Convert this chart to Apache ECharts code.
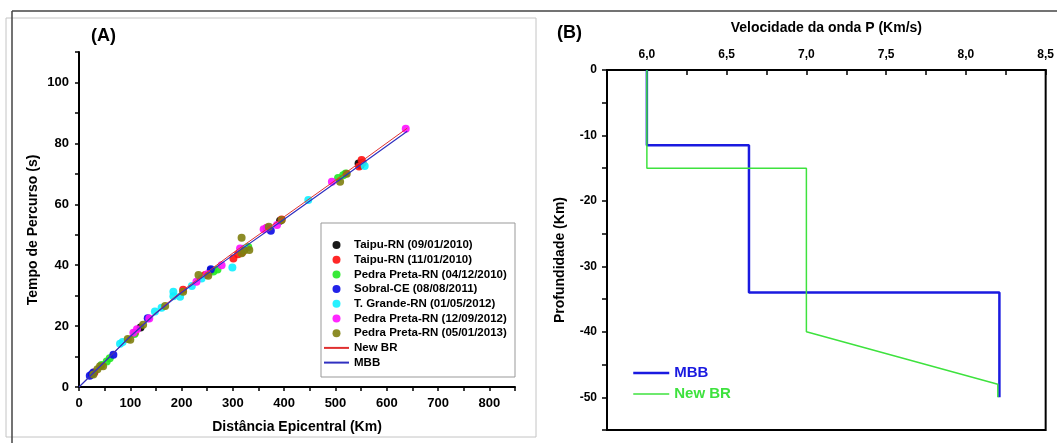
<!DOCTYPE html>
<html>
<head>
<meta charset="utf-8">
<script src="https://cdn.jsdelivr.net/npm/echarts@6/dist/echarts.min.js"></script>
<style>
html,body{margin:0;padding:0;background:#fff;}
#chart{width:1057px;height:443px;}
</style>
</head>
<body>
<div id="chart"></div>
<script>
// ---------- Panel A data: travel time (s) vs epicentral distance (km) ----------
const taipu0901 = [[545,73.4],[549,72.8],[257,38.3],[392,54.6],[120,19.5]];
const taipu1101 = [[551,74.5],[553,73.6],[546,72.4],[301,42.2],[310,43.6],[318,44.2],[203,31.9],[246,36.8],[109,17.7],[366,52.2],[395,55.0],[30,4.8]];
const pedraPreta2010 = [[54,8.4],[44,7.2],[60,9.4],[515,69.5],[520,70.1],[505,68.6],[262,37.9],[270,38.6],[330,46.0],[108,17.4]];
const sobral2011 = [[21,3.7],[28,4.8],[25,4.2],[67,10.6],[134,22.6],[257,38.7],[374,51.3]];
const tGrande2012 = [[80,14.2],[85,14.8],[148,24.8],[161,26.0],[184,31.3],[184,29.8],[197,29.6],[220,33.2],[239,35.6],[299,39.2],[447,61.4],[557,72.6],[322,45.5]];
const pedraPreta2012 = [[637,84.8],[493,67.4],[360,51.8],[366,52.3],[386,53.2],[278,40.0],[229,34.6],[137,22.5],[106,17.8],[113,19.0],[314,45.5],[250,37.0]];
const pedraPreta2013 = [[41,6.8],[47,6.8],[36,5.8],[100,15.5],[95,15.8],[125,20.4],[168,26.6],[203,31.3],[233,36.8],[317,49.0],[332,45.0],[317,43.9],[322,44.8],[395,54.8],[370,52.6],[509,67.4],[522,70.0],[252,36.5],[28,4.1]];

const curveDist = [0,50,100,150,200,300,400,500,640];
const newBrTime = [0,8.3,16.6,24.4,31.4,44.0,55.9,67.9,85.0];
const mbbTime   = [0,8.3,16.6,24.2,31.0,43.3,55.1,67.1,84.0];

const scatterNames = ['Taipu-RN (09/01/2010)','Taipu-RN (11/01/2010)','Pedra Preta-RN (04/12/2010)','Sobral-CE (08/08/2011)','T. Grande-RN (01/05/2012)','Pedra Preta-RN (12/09/2012)','Pedra Preta-RN (05/01/2013)'];
const scatterData = [taipu0901,taipu1101,pedraPreta2010,sobral2011,tGrande2012,pedraPreta2012,pedraPreta2013];
const scatterColors = ['#000000','#ff1010','#22e822','#0a0ae6','#10f0ff','#ff10ff','#7f7f10'];

// ---------- Panel B data: P-wave velocity (km/s) vs depth (km) ----------
const mbbVel = [6.0,6.0,6.64,6.64,8.21,8.21];
const mbbDepth = [0,-11.5,-11.5,-34,-34,-50];
const newBrVel = [6.0,6.0,7.0,7.0,8.2,8.2];
const newBrDepth = [0,-15,-15,-40,-48,-50];

const FONT = 'Liberation Sans, Arial, sans-serif';
const zip = (a,b) => a.map((v,i)=>[v,b[i]]);
const blueB = '#1a1ae0', greenB = '#3ee23e';

const tick = {show:true, length:4, lineStyle:{color:'#000', width:1.5}};
const lbl = (extra) => Object.assign({color:'#000', fontWeight:'bold', fontFamily:FONT}, extra);
const noSym = {opacity:0, color:'transparent', borderWidth:0};

const series = [];
scatterNames.forEach((n,i)=>{
  series.push({name:n, type:'scatter', xAxisIndex:0, yAxisIndex:0, data:scatterData[i],
    symbol:'circle', symbolSize:8, itemStyle:{color:scatterColors[i], opacity:0.9}, z:2});
});
series.push({name:'New BR', type:'line', xAxisIndex:0, yAxisIndex:0, data:zip(curveDist,newBrTime),
  symbol:'none', lineStyle:{color:'#e03030', width:1}, itemStyle:{color:'#e03030'}, z:3});
series.push({name:'MBB', type:'line', xAxisIndex:0, yAxisIndex:0, data:zip(curveDist,mbbTime),
  symbol:'none', lineStyle:{color:'#3030c0', width:1.2}, itemStyle:{color:'#3030c0'}, z:3});
series.push({name:'MBB (B)', type:'line', xAxisIndex:1, yAxisIndex:1, data:zip(mbbVel,mbbDepth),
  symbol:'none', lineStyle:{color:blueB, width:2.5}, itemStyle:{color:blueB}, z:3});
series.push({name:'New BR (B)', type:'line', xAxisIndex:1, yAxisIndex:1, data:zip(newBrVel,newBrDepth),
  symbol:'none', lineStyle:{color:greenB, width:1.5}, itemStyle:{color:greenB}, z:4});

const option = {
  animation:false,
  backgroundColor:'#fff',
  grid:[
    {left:79, top:52, width:436, height:335},
    {left:607, top:70, width:439, height:360, show:true, borderColor:'#000', borderWidth:2, backgroundColor:'transparent'}
  ],
  xAxis:[
    {gridIndex:0, type:'value', min:0, max:850, interval:50,
      axisLine:{show:true, onZero:false, lineStyle:{color:'#000', width:2}},
      axisTick:tick, splitLine:{show:false},
      axisLabel:lbl({fontSize:13, margin:10, formatter:v=> v%100===0 ? String(v) : ''}),
      name:'Distância Epicentral (Km)', nameLocation:'middle', nameGap:33,
      nameTextStyle:lbl({fontSize:14})},
    {gridIndex:1, type:'value', position:'top', min:5.75, max:8.5, interval:0.25,
      axisLine:{show:true, onZero:false, lineStyle:{color:'#000', width:2}},
      axisTick:Object.assign({}, tick, {inside:true, length:5}), splitLine:{show:false},
      axisLabel:lbl({fontSize:12, margin:9, formatter:v=> (Math.abs(v*2-Math.round(v*2))<1e-6 && v>5.9) ? v.toFixed(1).replace('.',',') : ''}),
      name:'Velocidade da onda P (Km/s)', nameLocation:'middle', nameGap:35,
      nameTextStyle:lbl({fontSize:14})}
  ],
  yAxis:[
    {gridIndex:0, type:'value', min:0, max:110, interval:10,
      axisLine:{show:true, onZero:false, lineStyle:{color:'#000', width:2}},
      axisTick:tick, splitLine:{show:false},
      axisLabel:lbl({fontSize:13, margin:10, formatter:v=> (v%20===0 && v<=100) ? String(v) : ''}),
      name:'Tempo de Percurso (s)', nameLocation:'middle', nameGap:39,
      nameTextStyle:lbl({fontSize:14, padding:[0,21,0,0]})},
    {gridIndex:1, type:'value', min:-55, max:0, interval:5,
      axisLine:{show:true, onZero:false, lineStyle:{color:'#000', width:2}},
      axisTick:Object.assign({}, tick, {length:5}), splitLine:{show:false},
      axisLabel:lbl({fontSize:12, margin:10, formatter:v=> (v%10===0 && v>-55) ? String(v) : ''}),
      name:'Profundidade (Km)', nameLocation:'middle', nameGap:40,
      nameTextStyle:lbl({fontSize:14, padding:[0,20,0,0]})}
  ],
  legend:[
    {left:323, top:239, orient:'vertical', padding:0,
      itemWidth:25, itemHeight:8, itemGap:2.7,
      textStyle:lbl({fontSize:11.5, lineHeight:12}),
      data: scatterNames.map(n=>({name:n, icon:'circle'})).concat([
        {name:'New BR', itemStyle:noSym},
        {name:'MBB', itemStyle:noSym}])},
    {left:632, top:365, orient:'vertical', padding:0,
      itemWidth:36, itemHeight:14, itemGap:5,
      textStyle:lbl({fontSize:15, lineHeight:16}),
      formatter:n=>n.replace(' (B)',''),
      data:[{name:'MBB (B)', textStyle:{color:blueB}, itemStyle:noSym, lineStyle:{width:2.5, color:blueB}},
            {name:'New BR (B)', textStyle:{color:greenB}, itemStyle:noSym, lineStyle:{width:1.5, color:greenB}}]}
  ],
  graphic:[
    {type:'rect', shape:{x:6, y:18, width:530, height:419}, style:{fill:'none', stroke:'#c4c4c4', lineWidth:1}, silent:true, z:-1},
    {type:'line', shape:{x1:12, y1:11, x2:1057, y2:11}, style:{stroke:'#444', lineWidth:1.5}, silent:true},
    {type:'line', shape:{x1:12, y1:11, x2:12, y2:443}, style:{stroke:'#444', lineWidth:1.5}, silent:true},
    {type:'rect', shape:{x:321, y:223, width:194, height:154}, style:{fill:'#fff', stroke:'#999', lineWidth:1}, silent:true, z:-1},
    {type:'text', left:91, top:27, style:{text:'(A)', font:'bold 18px '+FONT, fill:'#000'}},
    {type:'text', left:557, top:24, style:{text:'(B)', font:'bold 18px '+FONT, fill:'#000'}}
  ],
  series: series
};
const chart = echarts.init(document.getElementById('chart'), null, {renderer:'canvas'});
chart.setOption(option);
</script>
</body>
</html>
